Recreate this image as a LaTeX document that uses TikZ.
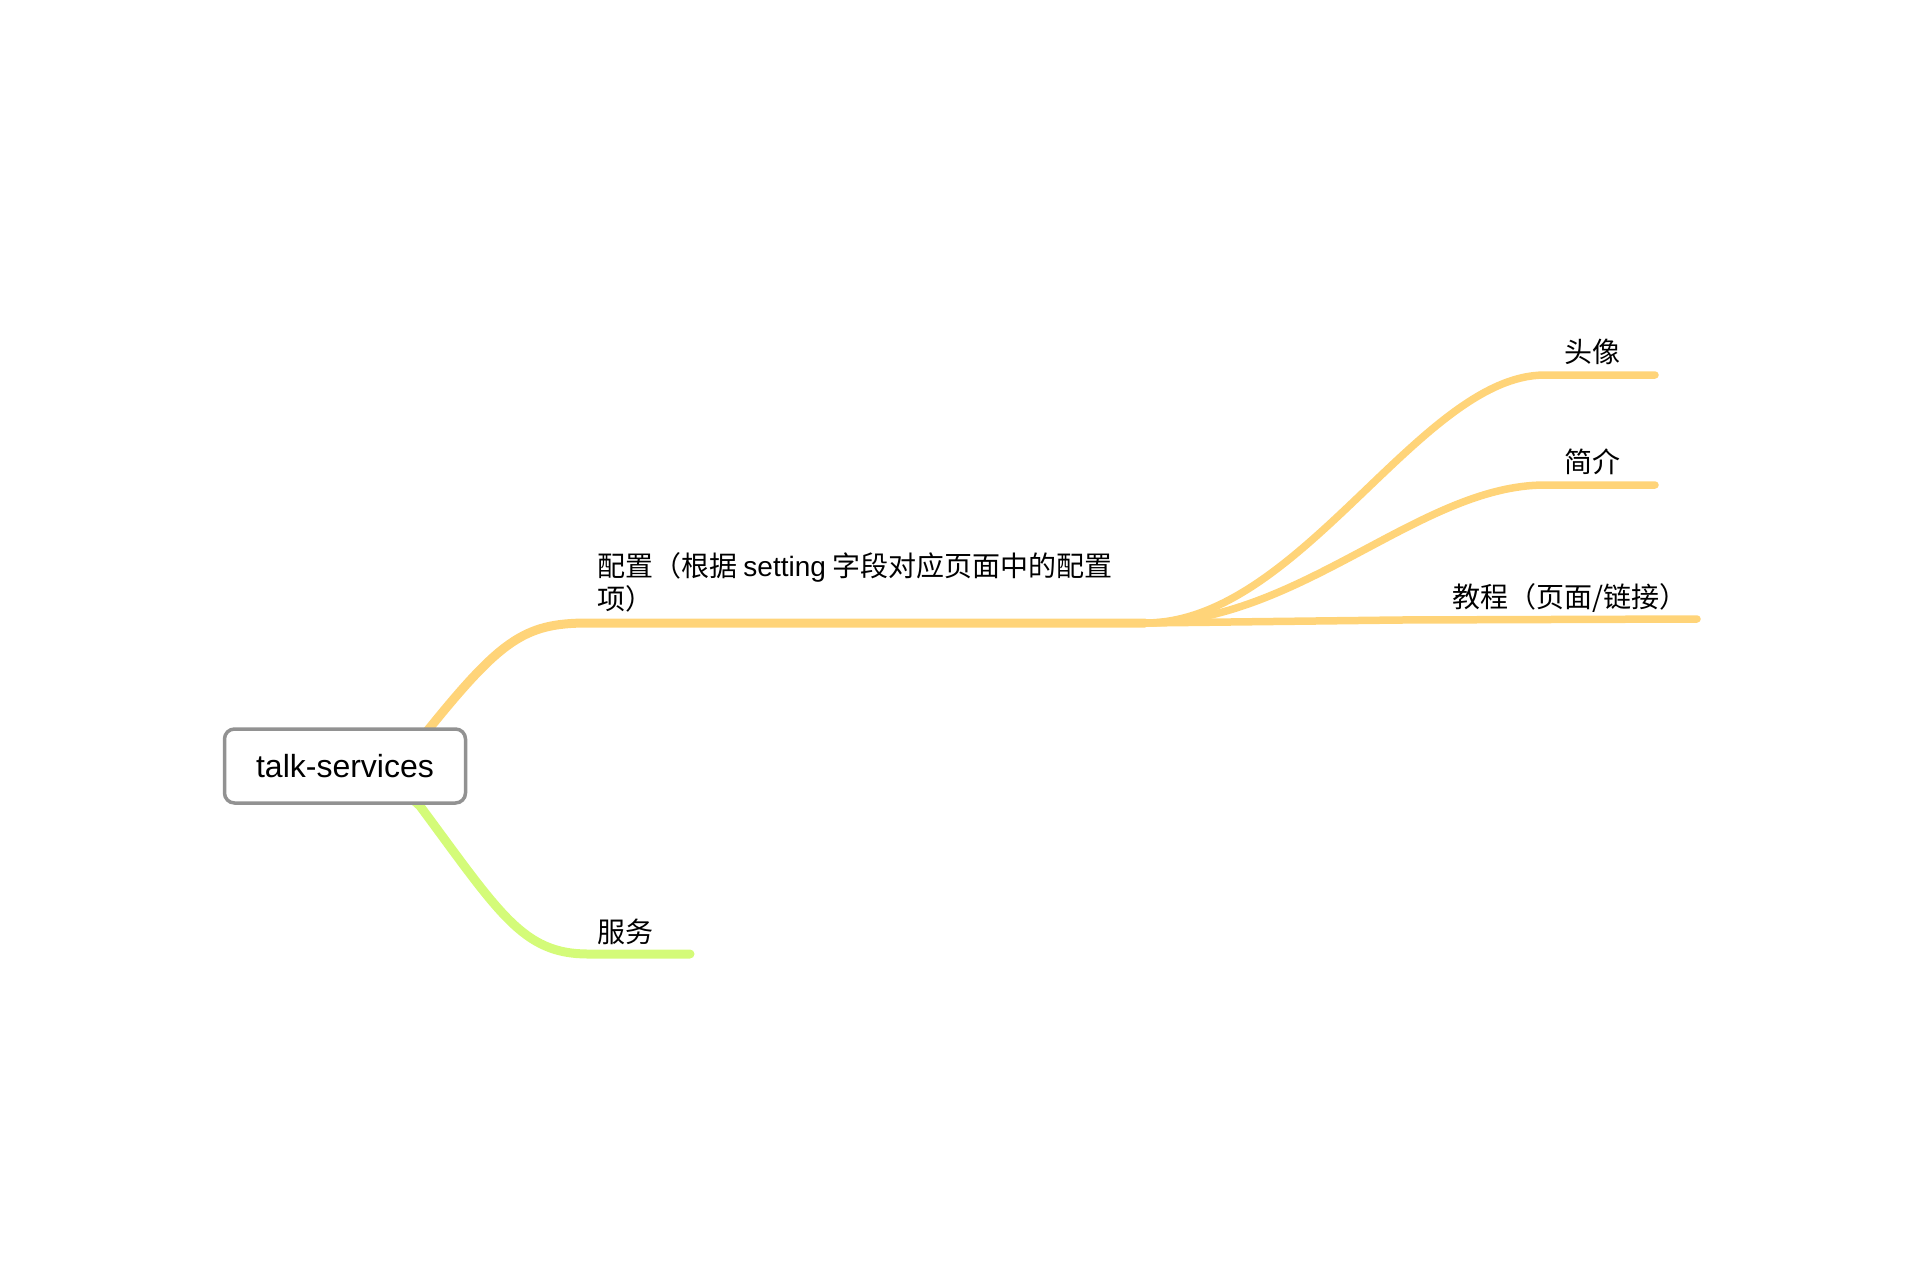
\documentclass[tikz,border=0pt]{standalone}
\usepackage{fontspec}
\setmainfont{Liberation Sans}
\newfontfamily\cjk{Noto Sans CJK SC}
\usetikzlibrary{positioning}
\definecolor{cantaloupe}{HTML}{FFD479}
\definecolor{honeydew}{HTML}{D4FB79}
\definecolor{boxgrey}{HTML}{929292}

\begin{document}
\begin{tikzpicture}[x=1pt,y=-1pt,
    branch/.style={line width=9pt,line cap=round},
    twig/.style={line width=7.5pt,line cap=round,draw=cantaloupe},
    leaf/.style={inner sep=0pt,anchor=base west,font=\fontsize{28}{33}\selectfont\cjk},
    topic/.style={draw=boxgrey,line width=3.5pt,rounded corners=10pt,fill=white,
        minimum width=241pt,minimum height=74pt,font=\fontsize{32}{38}\selectfont}]
                \useasboundingbox (0,0) rectangle (1920,1280);
                \coordinate (hub) at (1145,623);
                \coordinate (cfgend) at (588,623);
                \coordinate (srvend) at (588,954);
                \draw[branch,cantaloupe] (400,766) -- (420,740) .. controls (500,640) and (523,623) .. (cfgend) -- (hub);
                \draw[branch,honeydew] (400,788) -- (420,806) .. controls (500,914) and (523,954) .. (srvend) -- (690,954);
                \draw[twig] (hub) .. controls (1300,623) and (1420,375) .. (1545,375) -- (1655,375);
                \draw[twig] (hub) .. controls (1300,623) and (1420,485) .. (1545,485) -- (1655,485);
                \draw[twig] (hub) -- (1400,620) -- (1697,619);
                \node[topic] (root) at (345,766) {talk-services};
                \node[leaf] (config) at (597,576) {配置（根据 \fontspec{Liberation Sans}setting\cjk{} 字段对应页面中的配置};
                \node[leaf] (config2) at (597,609) {项）};
                \node[leaf] (avatar) at (1564,362) {头像};
                \node[leaf] (intro) at (1564,472) {简介};
                \node[leaf] (tutorial) at (1452,607) {教程（页面/链接）};
                \node[leaf] (service) at (597,942) {服务};
            \end{tikzpicture}
\end{document}
